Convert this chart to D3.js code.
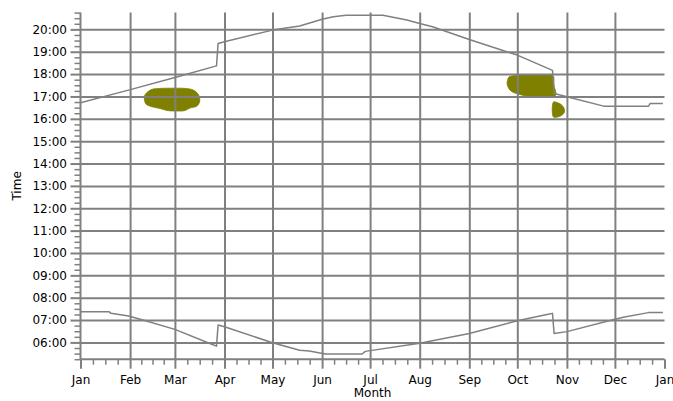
<!DOCTYPE html>
<html><head><meta charset="utf-8">
<script src="https://cdn.jsdelivr.net/npm/d3@7/dist/d3.min.js"></script>
<style>
body{margin:0;background:#fff}
svg{display:block}
text{font-family:"DejaVu Sans",sans-serif;font-size:12px;fill:#000}
</style>
</head><body>
<svg id="chart" width="673" height="401"></svg>
<script>
// ---------- data ----------
const year = 2010;
const hourTicks = [6,7,8,9,10,11,12,13,14,15,16,17,18,19,20];
const xTitle = "Month";
const yTitle = "Time";

// sunset (upper line)
const sunsetDates = ["01-01","01-31","03-01","03-27","03-28","04-01","05-01","05-18","06-01","06-08","06-16","07-09","07-24","08-01","08-09","09-01","09-23","10-01","10-23","10-24","11-01","11-24","12-22","12-23","12-31"];
const sunsetTimes = ["16:43","17:17","17:51","18:22","19:22","19:27","19:58","20:09","20:27","20:34","20:38","20:38","20:25","20:16","20:07","19:33","19:02","18:51","18:10","17:08","16:59","16:34","16:34","16:41","16:41"];

// sunrise (lower line)
const sunriseDates = ["01-01","01-19","01-20","01-31","02-09","03-01","03-24","03-27","03-28","04-01","05-01","05-18","05-24","06-03","06-26","06-28","08-01","09-01","10-01","10-21","10-23","10-24","11-01","12-01","12-07","12-22","12-31"];
const sunriseTimes = ["07:22","07:22","07:18","07:11","07:00","06:35","05:55","05:50","06:47","06:42","05:59","05:39","05:37","05:29","05:29","05:36","05:58","06:24","06:58","07:16","07:18","06:24","06:29","07:02","07:08","07:20","07:20"];

// observation areas: [day of year, hour]
const areaMarch = [[40.0,17.02],[42.2,17.22],[45.3,17.33],[49.7,17.36],[57.2,17.37],[65.3,17.36],[69.7,17.31],[72.8,17.17],[74.4,16.97],[74.4,16.75],[72.8,16.57],[68.4,16.48],[65.3,16.37],[59.1,16.35],[54.1,16.37],[49.7,16.46],[44.1,16.55],[40.9,16.66],[40.0,16.84]];
const areaOctober = [[266.9,17.73],[267.8,17.87],[270.3,17.93],[274.7,17.96],[287.2,17.96],[295.3,17.93],[295.9,17.51],[296.9,17.04],[287.2,17.02],[279.1,17.02],[273.4,17.11],[269.1,17.24],[267.2,17.42],[266.6,17.60]];
const areaNovember = [[295.6,16.75],[297.8,16.73],[300.0,16.66],[301.6,16.55],[302.5,16.41],[302.2,16.26],[300.6,16.15],[298.1,16.08],[295.6,16.08]];

// ---------- chart ----------
const svg = d3.select("#chart");
const gray = "#808080";
const olive = "#808000";

const t0 = Date.UTC(year,0,1), t1 = Date.UTC(year+1,0,1);
const x = d3.scaleUtc().domain([t0, t1]).range([80.5, 664.5]);
const y = d3.scaleLinear().domain([5.25, 20.75]).range([359.2, 12.6]);
const dayDate = d => new Date(t0 + d*864e5);
const parseDate = s => d3.utcParse("%Y-%m-%d")(year + "-" + s);
const parseTime = s => { const [h,m] = s.split(":").map(Number); return h + m/60; };

const pL = x.range()[0], pR = x.range()[1];
const pB = y(5.25), pT = y(20.75);

// areas (behind grid)
const areaLine = d3.line().x(d => x(dayDate(d[0]))).y(d => y(d[1])).curve(d3.curveCatmullRomClosed.alpha(0.5));
[areaMarch, areaOctober, areaNovember].forEach(a => {
  svg.append("path").attr("d", areaLine(a)).attr("fill", olive).attr("stroke", olive).attr("stroke-width", 0.8);
});

// grid
const months = d3.utcMonths(new Date(t0), new Date(t1 + 1));
svg.append("g").attr("transform", `translate(${pL},0)`)
  .call(d3.axisLeft(y).tickValues(hourTicks).tickSize(-(pR-pL)).tickFormat("").tickSizeOuter(0))
  .call(g => g.select(".domain").remove())
  .selectAll("line").attr("stroke", gray).attr("stroke-width", 2);
svg.append("g").attr("transform", `translate(0,${pB})`)
  .call(d3.axisBottom(x).tickValues(months.slice(1, 12)).tickSize(-(pB-pT)).tickFormat("").tickSizeOuter(0))
  .call(g => g.select(".domain").remove())
  .selectAll("line").attr("stroke", gray).attr("stroke-width", 2);

// y axis
const minorHours = d3.range(5.25, 20.76, 0.25).filter(h => Math.abs(h - Math.round(h)) > 0.01);
svg.append("g").attr("transform", `translate(${pL},0)`)
  .call(d3.axisLeft(y).tickValues(minorHours).tickSize(6).tickFormat("").tickSizeOuter(0))
  .call(g => g.select(".domain").remove())
  .selectAll("line").attr("stroke", gray).attr("stroke-width", 1.5);
const yAxis = svg.append("g").attr("transform", `translate(${pL},0)`)
  .call(d3.axisLeft(y).tickValues(hourTicks).tickSize(10).tickPadding(3.5).tickSizeOuter(0)
    .tickFormat(h => d3.format("02d")(h) + ":00"));
yAxis.select(".domain").remove();
yAxis.selectAll("line").attr("stroke", gray).attr("stroke-width", 2);
yAxis.selectAll("text").attr("fill", "#000");
yAxis.attr("font-family", null).attr("font-size", null);

// x axis
const minorDates = [];
for (let i = 0; i < 12; i++) {
  const s = months[i].getTime(), e = months[i+1].getTime();
  for (let k = 1; k < 4; k++) minorDates.push(new Date(s + k*(e - s)/4));
}
svg.append("g").attr("transform", `translate(0,${pB})`)
  .call(d3.axisBottom(x).tickValues(minorDates).tickSize(5.5).tickFormat("").tickSizeOuter(0))
  .call(g => g.select(".domain").remove())
  .selectAll("line").attr("stroke", gray).attr("stroke-width", 1.5);
const xAxis = svg.append("g").attr("transform", `translate(0,${pB})`)
  .call(d3.axisBottom(x).tickValues(months).tickSize(9.5).tickPadding(7).tickSizeOuter(0)
    .tickFormat(d3.utcFormat("%b")));
xAxis.select(".domain").remove();
xAxis.selectAll("line").attr("stroke", gray).attr("stroke-width", 2);
xAxis.selectAll("text").attr("fill", "#000");
xAxis.attr("font-family", null).attr("font-size", null);

// axis lines
svg.append("line").attr("x1", pL).attr("x2", pL).attr("y1", pT).attr("y2", pB)
  .attr("stroke", gray).attr("stroke-width", 2);
svg.append("line").attr("x1", pL).attr("x2", pR).attr("y1", pB).attr("y2", pB)
  .attr("stroke", gray).attr("stroke-width", 2);

// data lines
const line = d3.line().x(d => x(d.date)).y(d => y(d.h));
const sunset = sunsetDates.map((s,i) => ({date: parseDate(s), h: parseTime(sunsetTimes[i])}));
const sunrise = sunriseDates.map((s,i) => ({date: parseDate(s), h: parseTime(sunriseTimes[i])}));
[sunset, sunrise].forEach(data => {
  svg.append("path").attr("d", line(data)).attr("fill", "none")
    .attr("stroke", gray).attr("stroke-width", 1.5).attr("stroke-linejoin", "round");
});

// titles
svg.append("text").attr("x", (pL + pR)/2).attr("y", 397).attr("text-anchor", "middle").text(xTitle);
svg.append("text").attr("transform", `translate(21,${(pT+pB)/2}) rotate(-90)`)
  .attr("text-anchor", "middle").text(yTitle);
</script>
</body></html>
